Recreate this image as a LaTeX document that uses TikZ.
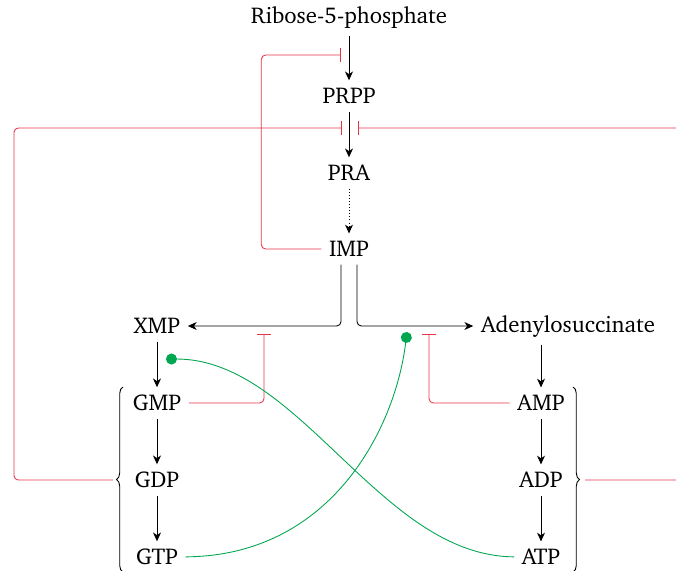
\documentclass[tikz,border=0pt]{standalone}
\usepackage[T1]{fontenc}
\usepackage{charter}
\usetikzlibrary{arrows.meta,decorations.pathreplacing,calc}

\definecolor{inhred}{RGB}{232,52,72}
\definecolor{actgreen}{RGB}{0,166,80}

\tikzset{
 every node/.style={font=\fontsize{10.4}{12.5}\selectfont},
 conv/.style={-{Stealth[length=4pt,width=3.6pt,inset=1.2pt]}},
 inh/.style={draw=inhred,-{Bar[width=6.6pt]},rounded corners=2pt},
 act/.style={draw=actgreen,-{Circle[length=5pt]}},
 pbrace/.style={decorate,decoration={brace,amplitude=3pt}}
}

\begin{document}
\begin{tikzpicture}[x=0.016cm,y=-0.016cm]
%%%%%frame of the picture
\clip (0,0) rectangle (676,570);
\def\xm{349}
\def\xg{157}
\def\xa{541}
\def\dy{77}

%%%%%metabolites
\node (r5p) at (\xm,17) {Ribose-5-phosphate};
\node (prpp) at (\xm,96) {PRPP};
\node (pra) at (\xm,173) {PRA};
\node (imp) at (\xm,249) {IMP};
\node (xmp) at (\xg,326) {XMP};
\node (ads) at (568,326) {Adenylosuccinate};
\foreach \n/\t [count=\i] in {gmp/GMP,gdp/GDP,gtp/GTP}
 \node (\n) at (\xg,326+\i*\dy) {\t};
\foreach \n/\t [count=\i] in {amp/AMP,adp/ADP,atp/ATP}
 \node (\n) at (\xa,326+\i*\dy) {\t};

%%%%%conversions
\draw[conv] (r5p) -- (prpp);
\draw[conv] (prpp) -- (pra);
\draw[conv,densely dotted] (pra) -- (imp);
\draw[conv,rounded corners=2pt] ($(imp.south)+(-8,0)$) |- (xmp);
\draw[conv,rounded corners=2pt] ($(imp.south)+(8,0)$) |- (ads);
\draw[conv] (xmp) -- (gmp);
\draw[conv] (gmp) -- (gdp);
\draw[conv] (gdp) -- (gtp);
\draw[conv] (ads.south -| amp) -- (amp);
\draw[conv] (amp) -- (adp);
\draw[conv] (adp) -- (atp);

%%%%%braces
\draw[pbrace] (123,572) -- (123,387);
\draw[pbrace] (573,387) -- (573,572);
\coordinate (gtip) at (113,480);
\coordinate (atip) at (585,480);

%%%%%inhibitions
\coordinate (b1) at (341,55);
\coordinate (b2) at (342,128);
\coordinate (b3) at (358,128);
\coordinate (b4) at (264,334);
\coordinate (b5) at (429,334);
\draw[inh] (imp.west) -- ++(-60,0) |- (b1);
\draw[inh] (gtip) -- ++(-99,0) |- (b2);
\draw[inh] (atip) -- ++(120,0) |- (b3);
\draw[inh] (gmp) -| (b4);
\draw[inh] (amp) -| (b5);

%%%%%activations
\coordinate (d1) at (407,332);
\coordinate (d2) at (166,359);
\draw[act] (gtp) .. controls (330,556) and (395,430) .. (d1);
\draw[act] (atp) .. controls (380,556) and (300,359) .. (d2);
\end{tikzpicture}
\end{document}
